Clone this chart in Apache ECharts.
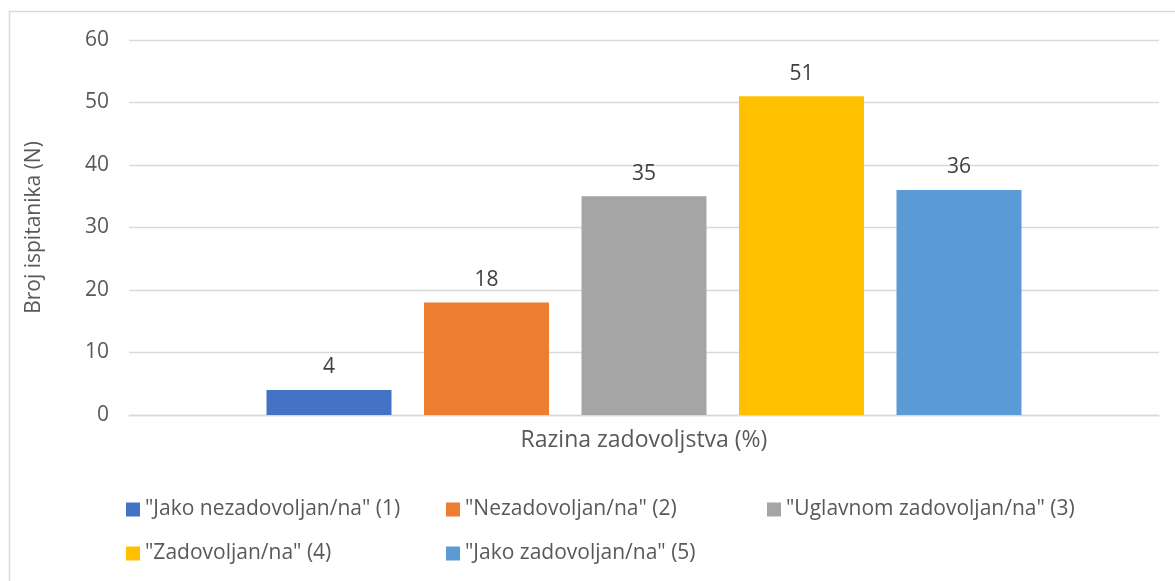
<!DOCTYPE html>
<html>
<head>
<meta charset="utf-8">
<script src="https://cdn.jsdelivr.net/npm/echarts@6/dist/echarts.min.js"></script>
<style>
html,body{margin:0;padding:0;background:#fff}
#chart{width:1175px;height:581px}
</style>
</head>
<body>
<div id="chart"></div>
<script>
const seriesNames=['"Jako nezadovoljan/na" (1)','"Nezadovoljan/na" (2)','"Uglavnom zadovoljan/na" (3)','"Zadovoljan/na" (4)','"Jako zadovoljan/na" (5)'];
const values=[4,18,35,51,36];
const colors=["#4472C4","#ED7D31","#A5A5A5","#FFC000","#5B9BD5"];
const categories=[""];
const yTicks={min:0,max:60,interval:10};

const font="Open Sans";
const chart=echarts.init(document.querySelector("#chart"));

// legend laid out as a 3-column grid like Excel
const legendPos=[[121,494],[441,494],[762,494],[121,538],[441,538]];

chart.setOption({
  animation:false,
  graphic:[{type:"rect",shape:{x:9.5,y:11.5,width:1200,height:600},style:{fill:"none",stroke:"#D9D9D9",lineWidth:1.5}}],
  grid:{left:129,right:16,top:40,bottom:166},
  legend:seriesNames.map((n,i)=>({
    data:[n],left:legendPos[i][0],top:legendPos[i][1],
    itemWidth:14,itemHeight:14,itemGap:5,icon:"rect",
    textStyle:{color:"#595959",fontSize:21,fontFamily:font}
  })),
  xAxis:{
    type:"category",data:categories,
    name:"Razina zadovoljstva (%)",nameLocation:"middle",nameGap:14,
    nameTextStyle:{color:"#595959",fontSize:23,fontFamily:font},
    axisLine:{lineStyle:{color:"#D9D9D9",width:1.3}},
    axisTick:{show:false},axisLabel:{show:false}
  },
  yAxis:{
    type:"value",...yTicks,
    name:"Broj ispitanika (N)",nameLocation:"middle",nameGap:84,
    nameTextStyle:{color:"#595959",fontSize:21,fontFamily:font},
    axisLabel:{color:"#595959",fontSize:21,fontFamily:font,margin:20},
    splitLine:{lineStyle:{color:"#D9D9D9",width:1.3}},
    axisLine:{show:false},axisTick:{show:false}
  },
  series:seriesNames.map((n,i)=>({
    name:n,type:"bar",data:[values[i]],
    barWidth:125,barGap:"26%",
    itemStyle:{color:colors[i]},
    label:{show:true,position:"top",distance:12,color:"#404040",fontSize:21,fontFamily:font}
  }))
});
</script>
</body>
</html>
